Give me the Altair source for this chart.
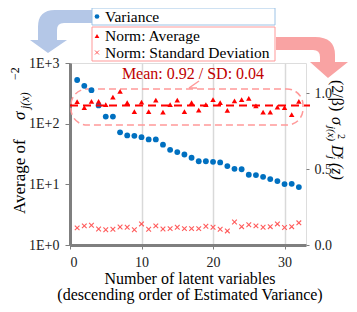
import altair as alt
import pandas as pd

latent = list(range(1, 33))
variance = [525, 420, 357, 200, 131, 131, 72, 64, 63, 60, 55, 55, 45, 37, 34, 31,
            27.4, 24, 24, 23.5, 23, 20, 18, 17.7, 14.4, 14.2, 13.3, 12.2, 11.3, 10.1, 10.2, 9.0]
norm_avg = [0.945, 0.905, 0.947, 0.947, 0.925, 0.975, 1.013, 0.938, 0.879, 0.942, 0.879, 0.956,
            0.876, 0.925, 0.956, 0.879, 0.938, 0.889, 0.925, 0.958, 0.938, 0.887, 0.951, 0.958,
            0.967, 0.918, 0.876, 0.876, 0.909, 0.905, 0.859, 0.947]
norm_sd = [0.113, 0.126, 0.130, 0.106, 0.101, 0.104, 0.119, 0.117, 0.101, 0.139, 0.104, 0.126,
           0.106, 0.108, 0.117, 0.108, 0.108, 0.108, 0.124, 0.117, 0.104, 0.093, 0.152, 0.121,
           0.134, 0.126, 0.117, 0.121, 0.139, 0.115, 0.121, 0.146]
mean_value = 0.92
mean_label = "Mean: 0.92 / SD: 0.04"
x_ticks = [0, 10, 20, 30]
left_ticks = [1, 10, 100, 1000]
right_ticks = [0.0, 0.5, 1.0]
legend_labels = ["Variance", "Norm: Average", "Norm: Standard Deviation"]
x_title = ["Number of latent variables", "(descending order of Estimated Variance)"]

df = pd.DataFrame({"n": latent, "var": variance, "avg": norm_avg, "sd": norm_sd})
one = pd.DataFrame({"k": [0]})

W, H = 236, 182
FONT = "'Liberation Serif', 'Times New Roman', 'DejaVu Serif', serif"
BLUE = "#0070c0"
RED = "#ff0000"
XRED = "#ff5b5b"
PINK = "#ff9999"
XPATH = "M-1,-1L1,1M-1,1L1,-1"

xscale = alt.Scale(domain=[0, 33], nice=False, zero=False)
xaxis = alt.Axis(values=x_ticks, title=None, grid=True, gridColor="#d9d9d9", gridWidth=1.5,
                 labelFont=FONT, labelFontSize=14, labelColor="#222222",
                 domainColor="#7f7f7f", domainWidth=3, tickColor="#7f7f7f", tickSize=4,
                 labelPadding=6)

lscale = alt.Scale(type="log", domain=[1, 1000], nice=False)
laxis = alt.Axis(orient="left", values=left_ticks, title=None, grid=False,
                 labelExpr="'1E+' + round(log(datum.value)/LN10)",
                 labelFont=FONT, labelFontSize=14, labelColor="#222222",
                 domainColor="#7f7f7f", domainWidth=3, tickColor="#7f7f7f", tickSize=5,
                 labelPadding=6)

rscale = alt.Scale(domain=[0, 1.2], nice=False, zero=True)
raxis = alt.Axis(orient="right", values=right_ticks, format=".1f", title=None, grid=False,
                 domain=False, labelFont=FONT, labelFontSize=14, labelColor="#222222",
                 tickColor="#7f7f7f", tickSize=3, labelPadding=5)

base = alt.Chart(df)

var_pts = base.mark_point(filled=True, size=34, color=BLUE, opacity=1).encode(
    x=alt.X("n:Q", scale=xscale, axis=xaxis),
    y=alt.Y("var:Q", scale=lscale, axis=laxis),
)

tri = base.mark_point(shape="triangle-up", filled=True, size=30, color=RED, opacity=1).encode(
    x=alt.X("n:Q", scale=xscale, axis=xaxis),
    y=alt.Y("avg:Q", scale=rscale, axis=raxis),
)
crs = base.mark_point(shape=XPATH, filled=False, size=22, color=XRED, strokeWidth=1.1, opacity=1).encode(
    x=alt.X("n:Q", scale=xscale, axis=xaxis),
    y=alt.Y("sd:Q", scale=rscale, axis=raxis),
)
mean_rule = alt.Chart(pd.DataFrame({"m": [mean_value]})).mark_rule(
    color=RED, strokeDash=[8, 5], strokeWidth=2).encode(
    y=alt.Y("m:Q", scale=rscale, axis=raxis),
    x=alt.value(0), x2=alt.value(240),
)
right = alt.layer(mean_rule, tri, crs)


def txt(text, x, y, size=16, align="left", baseline="alphabetic", angle=0, italic=False, color="#000000"):
    props = dict(text=text, font=FONT, fontSize=size, align=align, baseline=baseline, color=color)
    if angle:
        props["angle"] = angle
    if italic:
        props["fontStyle"] = "italic"
    return alt.Chart(one).mark_text(**props).encode(x=alt.value(x), y=alt.value(y))


# rounded dashed box around the averages
box = alt.Chart(one).mark_rect(cornerRadius=16, fillOpacity=0, stroke=PINK, strokeWidth=1.5,
                               strokeDash=[7, 4]).encode(
    x=alt.value(1), x2=alt.value(233), y=alt.value(26), y2=alt.value(62))
ann = txt(mean_label, 123, 16, size=16, align="center", color="#c00000")
ann_a = alt.Chart(one).mark_rule(color=PINK, strokeWidth=1.5).encode(
    x=alt.value(129), y=alt.value(18), x2=alt.value(119), y2=alt.value(25))
ann_b = alt.Chart(one).mark_rule(color=PINK, strokeWidth=1.5).encode(
    x=alt.value(119), y=alt.value(25), x2=alt.value(127), y2=alt.value(25))

# decorative curved arrows
LARROW = ("M1.0,-0.694L-0.194,-0.694Q-0.742,-0.694,-0.742,-0.145L-0.742,0.274L-1.0,0.274"
          "L-0.419,0.694L0.194,0.274L-0.129,0.274L-0.129,-0.048Q-0.129,-0.274,0.097,-0.274"
          "L1.0,-0.274Z")
RARROW = ("M-1.0,-0.569L0.083,-0.569Q0.639,-0.569,0.639,-0.069L0.639,0.125L1.0,0.125"
          "L0.444,0.569L-0.056,0.125L0.222,0.125L0.222,-0.014Q0.222,-0.208,0.028,-0.208"
          "L-1.0,-0.208Z")
larrow = alt.Chart(one).mark_point(shape=LARROW, filled=True, size=3844, color="#b4c7e7",
                                   opacity=1).encode(x=alt.value(-9), y=alt.value(-31.5))
rarrow = alt.Chart(one).mark_point(shape=RARROW, filled=True, size=5184, color="#f9a3a3",
                                   opacity=1).encode(x=alt.value(242), y=alt.value(-5.5))

# legend (drawn by hand)
lbox1 = alt.Chart(one).mark_rect(fill="white", stroke="#9dc3e6", strokeWidth=1).encode(
    x=alt.value(22), x2=alt.value(205), y=alt.value(-55), y2=alt.value(-38))
lbox2 = alt.Chart(one).mark_rect(fill="white", stroke=PINK, strokeWidth=1).encode(
    x=alt.value(22), x2=alt.value(205), y=alt.value(-36), y2=alt.value(-2))
lsym1 = alt.Chart(one).mark_point(filled=True, size=22, color=BLUE, opacity=1).encode(
    x=alt.value(27), y=alt.value(-46.5))
lsym2 = alt.Chart(one).mark_point(shape="triangle-up", filled=True, size=22, color=RED, opacity=1).encode(
    x=alt.value(27), y=alt.value(-27))
lsym3 = alt.Chart(one).mark_point(shape=XPATH, filled=False, size=16, color=XRED, strokeWidth=1,
                                  opacity=1).encode(x=alt.value(27), y=alt.value(-10.5))
ltx1 = txt(legend_labels[0], 35, -46.5, size=15.5, baseline="middle")
ltx2 = txt(legend_labels[1], 35, -27, size=15.5, baseline="middle")
ltx3 = txt(legend_labels[2], 35, -10.5, size=15.5, baseline="middle")

# axis titles (hand-placed to allow sub/superscripts)
lt1 = txt("Average of", -45, 151, size=17, angle=270)
lt2 = txt("σ", -45, 57, size=17, angle=270, italic=True)
lt3 = txt("j(x)", -41, 46, size=12, angle=270, italic=True)
lt4 = txt("−2", -51, 17, size=12, angle=270)

RB = 262
rt1 = txt("(2/β)", RB, 17, size=16, angle=90)
rt2 = txt("σ", RB, 54, size=16, angle=90, italic=True)
rt3 = txt("j(x)", RB - 4, 63, size=11, angle=90, italic=True)
rt4 = txt("2", RB + 6, 71, size=10, angle=90)
rt5 = txt("D", RB, 82, size=16, angle=90, italic=True)
rt6 = txt("j", RB - 4, 93, size=11, angle=90, italic=True)
rt7 = txt("z", RB + 6, 92, size=10, angle=90, italic=True)
rt8 = txt("(z)", RB, 100, size=16, angle=90, italic=True)

xt1 = txt(x_title[0], 120, 221, size=16, align="center")
xt2 = txt(x_title[1], 120, 237, size=16, align="center")

main = alt.layer(var_pts, right).resolve_scale(y="independent")

chart = alt.layer(
    larrow, rarrow, lbox1, lbox2, lsym1, lsym2, lsym3, ltx1, ltx2, ltx3,
    box, ann_a, ann_b, ann,
    main,
    lt1, lt2, lt3, lt4, rt1, rt2, rt3, rt4, rt5, rt6, rt7, rt8, xt1, xt2,
).resolve_scale(y="independent").properties(
    width=W, height=H,
    autosize=alt.AutoSizeParams(type="none"),
    padding={"left": 62, "top": 55, "right": 43, "bottom": 59},
).configure_view(stroke="#595959", strokeWidth=2).configure(background="white")

chart.save("out.html", embed_options={"renderer": "svg", "actions": False})
